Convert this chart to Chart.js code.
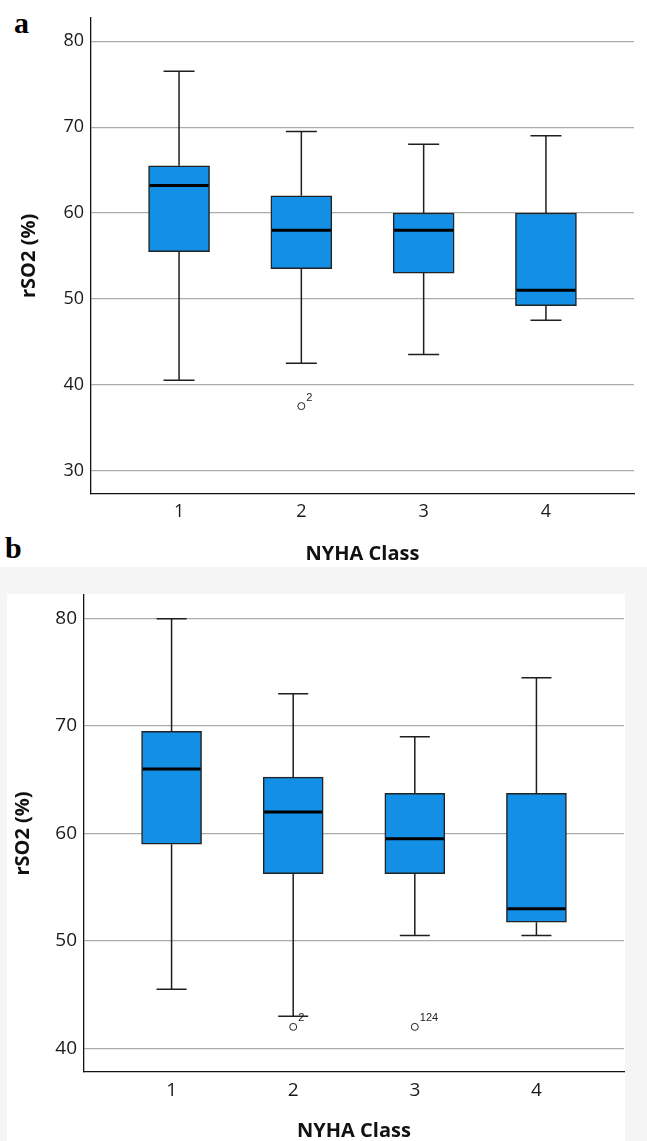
<!DOCTYPE html>
<html>
<head>
  <meta charset="utf-8">
  <title>rSO2 by NYHA Class</title>
  <script src="https://cdn.jsdelivr.net/npm/chart.js"></script>
  <style>
    html, body { margin: 0; padding: 0; background: #fff; overflow: hidden; }
    body { position: relative; width: 647px; height: 1141px; }
    .panel-bg { position: absolute; left: 0; top: 567px; width: 647px; height: 574px; background: #f5f5f5; }
    .panel-white { position: absolute; left: 7px; top: 594px; width: 618px; height: 547px; background: #fff; }
    .tag { position: absolute; font-family: "Liberation Serif", "DejaVu Serif", serif; font-weight: bold; font-size: 30px; color: #000; line-height: 1; }
    canvas { position: absolute; left: 0; }
  </style>
</head>
<body>
  <div class="panel-bg"></div>
  <div class="panel-white"></div>
  <div class="tag" style="left:14px; top:8px;">a</div>
  <div class="tag" style="left:5px; top:533px;">b</div>
  <canvas id="chartA" width="647" height="570" style="top:0"></canvas>
  <canvas id="chartB" width="647" height="580" style="top:575px"></canvas>
  <script>
    const CLASSES = ['1', '2', '3', '4'];

    // panel a
    const A_MIN = [40.5, 42.5, 43.5, 47.5];
    const A_Q1  = [55.5, 53.5, 53, 49.2];
    const A_MED = [63.2, 58, 58, 51];
    const A_Q3  = [65.5, 62, 60, 60];
    const A_MAX = [76.5, 69.5, 68, 69];
    const A_OUT_X = [2];
    const A_OUT_Y = [37.5];
    const A_OUT_LABEL = ['2'];
    const A_TICKS = [30, 40, 50, 60, 70, 80];

    // panel b
    const B_MIN = [45.5, 43, 50.5, 50.5];
    const B_Q1  = [59, 56.25, 56.25, 51.75];
    const B_MED = [66, 62, 59.5, 53];
    const B_Q3  = [69.5, 65.25, 63.75, 63.75];
    const B_MAX = [80, 73, 69, 74.5];
    const B_OUT_X = [2, 3];
    const B_OUT_Y = [42, 42];
    const B_OUT_LABEL = ['2', '124'];
    const B_TICKS = [40, 50, 60, 70, 80];

    const FONT = '"Open Sans", "Noto Sans", sans-serif';

    // whiskers, caps, medians and outlier labels, all placed through the chart scales
    const boxExtras = {
      id: 'boxExtras',
      afterDatasetsDraw(chart, args, opts) {
        const { ctx } = chart;
        const x = chart.scales.x, y = chart.scales.y;
        const s = opts.stats;
        ctx.save();
        s.med.forEach((m, i) => {
          const px = x.getPixelForValue(i + 1);
          const cap = opts.capWidth / 2;
          const half = opts.boxWidth / 2;
          ctx.strokeStyle = '#1e1e1e';
          ctx.lineWidth = 1.5;
          ctx.beginPath();
          ctx.moveTo(px, y.getPixelForValue(s.q3[i]));
          ctx.lineTo(px, y.getPixelForValue(s.max[i]));
          ctx.moveTo(px, y.getPixelForValue(s.q1[i]));
          ctx.lineTo(px, y.getPixelForValue(s.min[i]));
          ctx.moveTo(px - cap, y.getPixelForValue(s.max[i]));
          ctx.lineTo(px + cap, y.getPixelForValue(s.max[i]));
          ctx.moveTo(px - cap, y.getPixelForValue(s.min[i]));
          ctx.lineTo(px + cap, y.getPixelForValue(s.min[i]));
          ctx.stroke();
          // median
          ctx.strokeStyle = '#000';
          ctx.lineWidth = 3;
          ctx.beginPath();
          ctx.moveTo(px - half + 1, y.getPixelForValue(m));
          ctx.lineTo(px + half - 1, y.getPixelForValue(m));
          ctx.stroke();
        });
        // outlier case numbers
        ctx.fillStyle = '#222';
        ctx.font = '11px "Liberation Sans", Arial, sans-serif';
        ctx.textBaseline = 'bottom';
        ctx.textAlign = 'left';
        opts.outX.forEach((ox, i) => {
          ctx.fillText(opts.outLabel[i], x.getPixelForValue(ox) + 5, y.getPixelForValue(opts.outY[i]) - 3);
        });
        ctx.restore();
      }
    };

    function makeChart(id, stats, outX, outY, outLabel, yTicks, g) {
      const ctx = document.getElementById(id).getContext('2d');
      return new Chart(ctx, {
        type: 'bar',
        data: {
          datasets: [
            {
              type: 'bar',
              data: CLASSES.map((c, i) => ({ x: i + 1, y: [stats.q1[i], stats.q3[i]] })),
              backgroundColor: '#1390e6',
              borderColor: '#222',
              borderWidth: 1.5,
              borderSkipped: false,
              barThickness: g.boxWidth
            },
            {
              type: 'scatter',
              data: outX.map((v, i) => ({ x: v, y: outY[i] })),
              pointStyle: 'circle',
              pointRadius: 3.5,
              pointBackgroundColor: '#fff',
              pointBorderColor: '#222',
              pointBorderWidth: 1
            }
          ]
        },
        options: {
          responsive: false,
          animation: false,
          devicePixelRatio: 1,
          layout: { padding: { top: g.top, right: g.right, left: 0, bottom: 0 } },
          plugins: {
            legend: { display: false },
            tooltip: { enabled: false },
            boxExtras: {
              stats, outX, outY, outLabel,
              boxWidth: g.boxWidth,
              capWidth: g.capWidth
            }
          },
          scales: {
            x: {
              type: 'linear',
              offset: false,
              min: 0.28,
              max: 4.72,
              afterFit: s => { s.height = g.xHeight; },
              afterBuildTicks: s => { s.ticks = CLASSES.map((c, i) => ({ value: i + 1 })); },
              ticks: {
                padding: 7,
                color: '#1a1a1a',
                font: { family: FONT, size: g.fontSize },
                callback: v => CLASSES[v - 1]
              },
              grid: { display: false, drawTicks: false },
              border: { display: true, color: '#111', width: 1.3 },
              title: {
                display: true,
                text: 'NYHA Class',
                color: '#111',
                font: { family: FONT, size: g.titleSize, weight: 'bold' },
                padding: { top: 0, bottom: g.xTitlePad }
              }
            },
            y: {
              min: g.yMin,
              max: g.yMax,
              afterFit: s => { s.width = g.yWidth; },
              afterBuildTicks: s => { s.ticks = yTicks.map(v => ({ value: v })); },
              ticks: {
                padding: 7,
                color: '#1a1a1a',
                font: { family: FONT, size: g.fontSize }
              },
              grid: { color: '#ababab', lineWidth: 1.3, drawTicks: false },
              border: { display: true, color: '#111', width: 1.3 },
              title: {
                display: true,
                text: 'rSO2 (%)',
                color: '#111',
                font: { family: FONT, size: g.titleSize, weight: 'bold' },
                padding: { top: g.yTitlePad, bottom: 0 }
              }
            }
          }
        },
        plugins: [boxExtras]
      });
    }

    makeChart('chartA',
      { min: A_MIN, q1: A_Q1, med: A_MED, q3: A_Q3, max: A_MAX },
      A_OUT_X, A_OUT_Y, A_OUT_LABEL, A_TICKS,
      { top: 7, right: 13, yWidth: 91, xHeight: 76, yMin: 27.26, yMax: 82.74,
        boxWidth: 61, capWidth: 31, yTitlePad: 17, xTitlePad: 4, fontSize: 18, titleSize: 20 });

    makeChart('chartB',
      { min: B_MIN, q1: B_Q1, med: B_MED, q3: B_Q3, max: B_MAX },
      B_OUT_X, B_OUT_Y, B_OUT_LABEL, B_TICKS,
      { top: 20, right: 23, yWidth: 84, xHeight: 83, yMin: 37.8, yMax: 82.2,
        boxWidth: 60, capWidth: 30, yTitlePad: 11, xTitlePad: 12, fontSize: 19, titleSize: 20 });
  </script>
</body>
</html>
